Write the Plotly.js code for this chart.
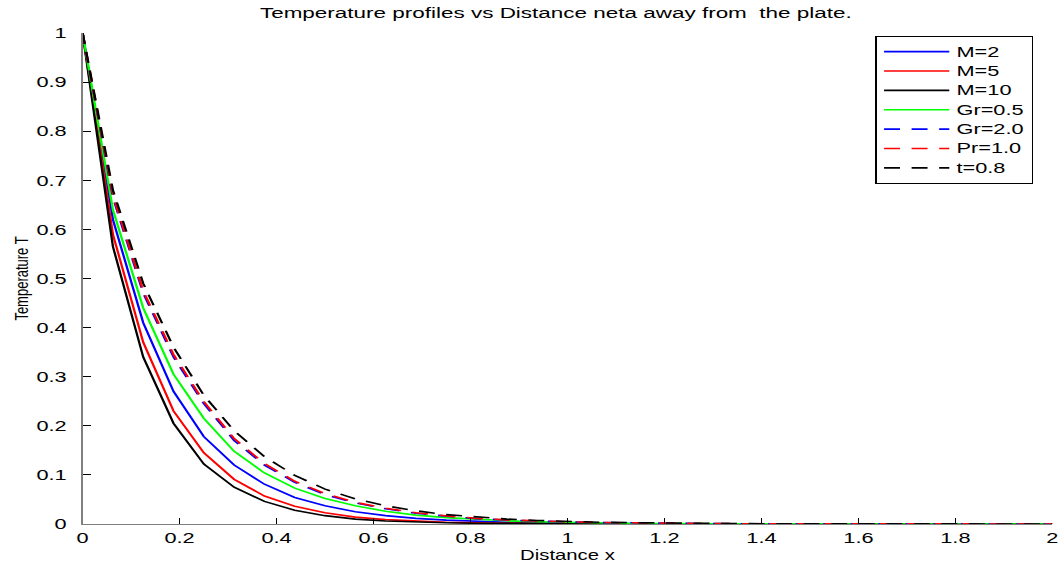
<!DOCTYPE html>
<html>
<head>
<meta charset="utf-8">
<script src="https://cdn.plot.ly/plotly-3.0.1.min.js"></script>
<style>
  html, body { margin: 0; padding: 0; background: #ffffff; overflow: hidden; }
  #chart { width: 732px; height: 567px; transform: scaleX(1.4495); transform-origin: 0 0; }
</style>
</head>
<body>
<div id="chart"></div>
<script>
// Distance x (grid of the computed profiles)
const distanceX = [0, 0.0625, 0.125, 0.1875, 0.25, 0.3125, 0.375, 0.4375, 0.5, 0.5625, 0.625, 0.6875, 0.75, 0.8125, 0.875, 0.9375, 1.0,
  1.0625, 1.125, 1.1875, 1.25, 1.3125, 1.375, 1.4375, 1.5, 1.5625, 1.625, 1.6875, 1.75, 1.8125, 1.875, 1.9375, 2.0];

// Temperature T for each parameter set
const tempM2 = [1, 0.62, 0.41, 0.27, 0.178, 0.12, 0.081, 0.054, 0.037, 0.025, 0.017, 0.0115, 0.0078, 0.0053, 0.0036, 0.0025, 0.0017,
  0.0012, 0.0008, 0.00055, 0.00037, 0.00025, 0.00017, 0.00012, 0.00008, 0.00005, 0.00004, 0.00003, 0.00002, 0.00001, 0.00001, 0, 0];
const tempM5 = [1, 0.59, 0.37, 0.23, 0.145, 0.091, 0.057, 0.036, 0.023, 0.014, 0.009, 0.0057, 0.0036, 0.0023, 0.0014, 0.0009, 0.0006,
  0.0004, 0.00025, 0.00015, 0.0001, 0.00006, 0.00004, 0.00002, 0.00001, 0.00001, 0, 0, 0, 0, 0, 0, 0];
const tempM10 = [1, 0.565, 0.34, 0.205, 0.122, 0.075, 0.046, 0.028, 0.017, 0.010, 0.006, 0.004, 0.0025, 0.0015, 0.001, 0.0006, 0.0004,
  0.00025, 0.00015, 0.0001, 0.00006, 0.00004, 0.00002, 0.00001, 0.00001, 0, 0, 0, 0, 0, 0, 0, 0];
const tempGr05 = [1, 0.64, 0.44, 0.305, 0.215, 0.148, 0.104, 0.073, 0.052, 0.037, 0.026, 0.018, 0.013, 0.009, 0.0065, 0.0046, 0.0032,
  0.0023, 0.0016, 0.0011, 0.0008, 0.00055, 0.0004, 0.00028, 0.0002, 0.00014, 0.0001, 0.00007, 0.00005, 0.00003, 0.00002, 0.00001, 0.00001];
const tempGr20 = [1, 0.665, 0.47, 0.34, 0.245, 0.17, 0.12, 0.085, 0.06, 0.043, 0.031, 0.022, 0.016, 0.011, 0.008, 0.0058, 0.0042,
  0.003, 0.0021, 0.0015, 0.0011, 0.0008, 0.00055, 0.0004, 0.00028, 0.0002, 0.00014, 0.0001, 0.00007, 0.00005, 0.00003, 0.00002, 0.00001];
const tempPr10 = [1, 0.67, 0.475, 0.345, 0.249, 0.174, 0.123, 0.087, 0.062, 0.044, 0.032, 0.023, 0.0165, 0.0115, 0.0083, 0.006, 0.0044,
  0.0031, 0.0022, 0.0016, 0.0011, 0.0008, 0.00057, 0.0004, 0.00029, 0.0002, 0.00015, 0.0001, 0.00007, 0.00005, 0.00003, 0.00002, 0.00001];
const tempT08 = [1, 0.68, 0.49, 0.36, 0.262, 0.19, 0.137, 0.099, 0.071, 0.051, 0.037, 0.027, 0.019, 0.014, 0.010, 0.0072, 0.0052,
  0.0037, 0.0027, 0.0019, 0.0014, 0.001, 0.0007, 0.0005, 0.00036, 0.00026, 0.00019, 0.00013, 0.0001, 0.00007, 0.00005, 0.00003, 0.00002];

const seriesNames = ["M=2", "M=5", "M=10", "Gr=0.5", "Gr=2.0", "Pr=1.0", "t=0.8"];
const seriesValues = [tempM2, tempM5, tempM10, tempGr05, tempGr20, tempPr10, tempT08];
const seriesColors = ["#0000ff", "#ff0000", "#000000", "#00ff00", "#0000ff", "#ff0000", "#000000"];
const seriesDash = ["solid", "solid", "solid", "solid", "11px,8px", "11px,8px", "11px,8px"];

const tickVals = [0, 0.2, 0.4, 0.6, 0.8, 1, 1.2, 1.4, 1.6, 1.8, 2];
const tickText = ["0", "0.2", "0.4", "0.6", "0.8", "1", "1.2", "1.4", "1.6", "1.8", "2"];
const yTickVals = [0, 0.1, 0.2, 0.3, 0.4, 0.5, 0.6, 0.7, 0.8, 0.9, 1];
const yTickText = ["0", "0.1", "0.2", "0.3", "0.4", "0.5", "0.6", "0.7", "0.8", "0.9", "1"];

const FONT = "Liberation Sans, Arial, Helvetica, sans-serif";

const traces = seriesNames.map((name, i) => ({
  type: "scatter",
  mode: "lines",
  name: "<span style='font-size:15px'>" + name + "</span>",
  x: distanceX,
  y: seriesValues[i],
  line: { color: seriesColors[i], width: 1.6, dash: seriesDash[i] },
  hoverinfo: "skip"
}));

const layout = {
  width: 732,
  height: 567,
  margin: { l: 57, r: 6, t: 33, b: 43, pad: 0 },
  paper_bgcolor: "#ffffff",
  plot_bgcolor: "#ffffff",
  font: { family: FONT, size: 15, color: "#000000" },
  title: {
    text: "Temperature profiles vs Distance neta away from  the plate.",
    font: { family: FONT, size: 15.5, color: "#000000" },
    xref: "paper", x: 0.488, xanchor: "center",
    yref: "container", y: 0.978, yanchor: "middle"
  },
  xaxis: {
    range: [0, 2],
    tickmode: "array", tickvals: tickVals, ticktext: tickText,
    ticks: "inside", ticklen: 6, tickwidth: 1, tickcolor: "#000000",
    showline: true, linecolor: "#808080", linewidth: 1, mirror: false,
    showgrid: false, zeroline: false,
    tickfont: { family: FONT, size: 15, color: "#000000" },
    title: { text: "Distance x", font: { family: FONT, size: 14, color: "#000000" }, standoff: 5 }
  },
  yaxis: {
    range: [0, 1],
    tickmode: "array", tickvals: yTickVals, ticktext: yTickText,
    ticks: "inside", ticklen: 6, tickwidth: 1, tickcolor: "#000000",
    ticklabelstandoff: 7,
    showline: true, linecolor: "#808080", linewidth: 1, mirror: false,
    showgrid: false, zeroline: false,
    tickfont: { family: FONT, size: 15, color: "#000000" },
    title: { text: "Temperature T", font: { family: FONT, size: 13, color: "#000000" }, standoff: 2 }
  },
  showlegend: true,
  legend: {
    x: 0.8175, xanchor: "left", y: 0.994, yanchor: "top",
    bgcolor: "#ffffff", bordercolor: "#000000", borderwidth: 1,
    font: { family: FONT, size: 12.6, color: "#000000" },
    itemwidth: 45, tracegroupgap: 0
  }
};

Plotly.newPlot("chart", traces, layout, { displayModeBar: false, staticPlot: true });
</script>
</body>
</html>
